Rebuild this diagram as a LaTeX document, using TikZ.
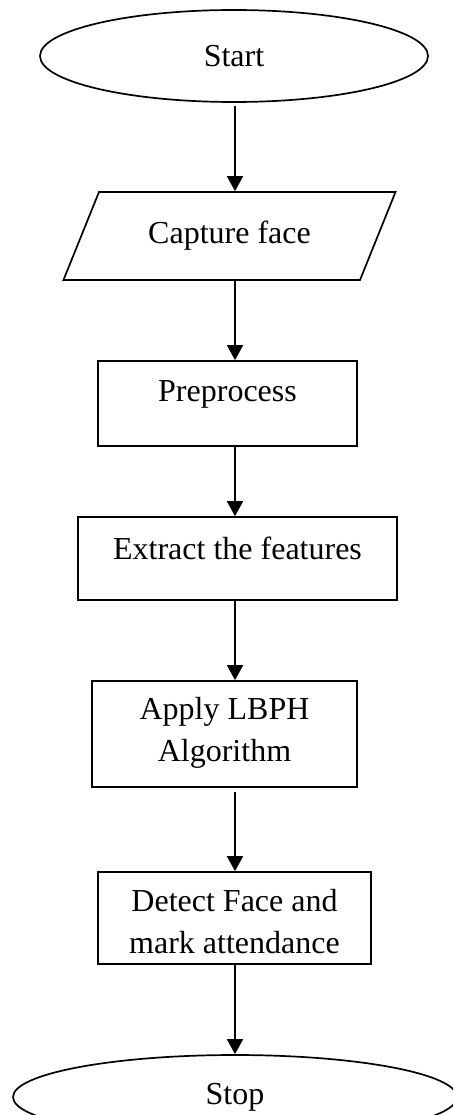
\documentclass[tikz,border=0pt]{standalone}
\usepackage{fontspec}
\setmainfont{Liberation Serif}
\usetikzlibrary{shapes.geometric,arrows.meta}
\begin{document}
\begin{tikzpicture}[x=1pt,y=-1pt,
  every node/.style={font=\fontsize{32}{42}\selectfont, align=center},
  oval/.style={draw, line width=1.7pt, ellipse, inner sep=0pt},
  iobox/.style={draw, line width=1.7pt, trapezium, trapezium left angle=53, trapezium right angle=127, trapezium stretches=true, inner sep=0pt},
  procbox/.style={draw, line width=1.7pt, rectangle, inner sep=0pt},
  txt/.style={inner sep=0pt},
  arr/.style={line width=1.7pt, -{Triangle[width=16pt,length=15pt]}}]
\useasboundingbox (0,0) rectangle (453,1115);
\clip (0,0) rectangle (453,1115);
\coordinate (ax) at (235,0);
\node[oval, minimum width=388, minimum height=92] (start) at (234,56) {Start};
\node[iobox, minimum width=333, minimum height=88] (cap) at (229.5,236) {Capture face};
\node[procbox, minimum width=259, minimum height=85] (pre) at (227.5,403.5) {};
\node[txt] (pret) at (227.5,394) {Preprocess};
\node[procbox, minimum width=319, minimum height=83] (ext) at (237.5,558.5) {};
\node[txt] (extt) at (237.5,548) {Extract the features};
\node[procbox, minimum width=265, minimum height=106] (app) at (224.5,734) {};
\node[txt] (appt) at (224.5,733) {Apply LBPH\\Algorithm};
\node[procbox, minimum width=273, minimum height=92] (det) at (234.5,918) {};
\node[txt] (dett) at (234.5,922) {Detect Face and\\mark attendance};
\node[oval, minimum width=444, minimum height=84] (stop) at (235,1097) {Stop};
\draw[arr, shorten <=3pt] (start.south -| ax) -- (cap.north -| ax);
\draw[arr] (cap.south -| ax) -- (pre.north -| ax);
\draw[arr] (pre.south -| ax) -- (ext.north -| ax);
\draw[arr] (ext.south -| ax) -- (app.north -| ax);
\draw[arr, shorten <=4pt] (app.south -| ax) -- (det.north -| ax);
\draw[arr] (det.south -| ax) -- (stop.north -| ax);
\end{tikzpicture}
\end{document}
